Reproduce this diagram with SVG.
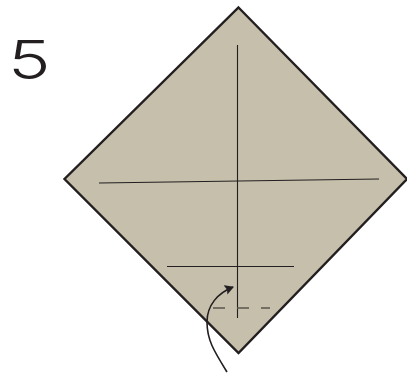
<svg xmlns="http://www.w3.org/2000/svg" width="407" height="373" viewBox="0 0 407 373">
<style>
.fold{fill:none;stroke:#231f20;stroke-width:1.1}
.valley{fill:none;stroke:#5a554e;stroke-width:1.5;stroke-dasharray:12 12}
</style>
<defs><marker id="ah" markerUnits="userSpaceOnUse" markerWidth="12" markerHeight="12" refX="8" refY="5" orient="auto"><path d="M0 0L9 5L0 10L1.500 5z" fill="#231f20"/></marker></defs>
<rect width="407" height="373" fill="#fff"/>
<g id="sheet"><path d="M238.500 7.500L407 179L238.500 353L64.500 179Z" fill="#c5bfab" stroke="#231f20" stroke-width="2.400"/></g>
<g id="step-number"><text transform="translate(8 79) scale(1.33 1)" font-family="Inter, 'Noto Sans', sans-serif" font-weight="300" font-size="54" fill="#231f20">5</text></g>
<g id="connectors">
<path class="fold" d="M237.500 45V318"/>
<path class="fold" d="M99 183L379 179"/>
<path class="fold" d="M167 266.500H294"/>
<path class="valley" d="M213 308H270"/>
<path d="M227 372C214 351 207 340 207 322C207 305 218 293 233 287" fill="none" stroke="#231f20" stroke-width="1.600" marker-end="url(#ah)"/>
</g>
</svg>
